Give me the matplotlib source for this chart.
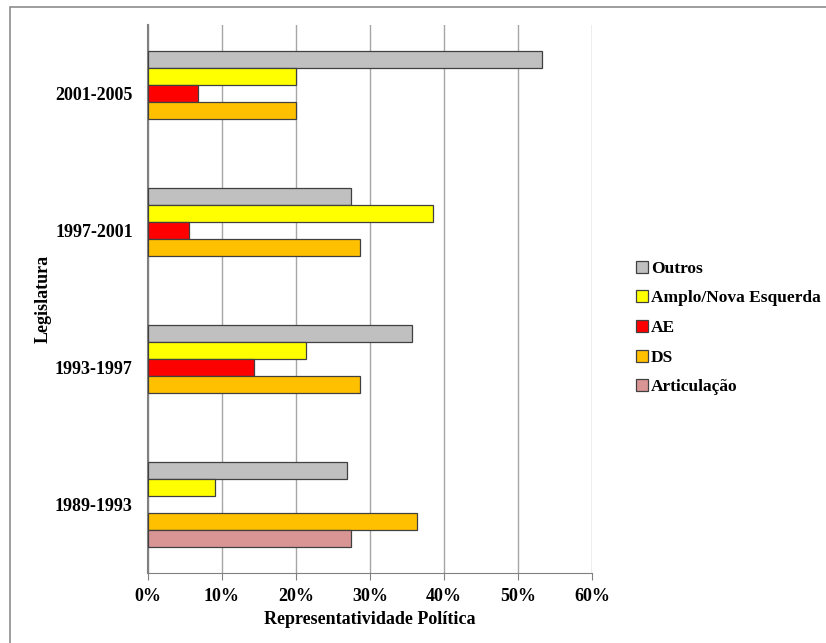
import matplotlib
matplotlib.use("Agg")
import matplotlib.pyplot as plt
import numpy as np
from matplotlib.patches import Rectangle
from matplotlib.ticker import PercentFormatter

legislaturas = ["1989-1993", "1993-1997", "1997-2001", "2001-2005"]
series_names = ["Outros", "Amplo/Nova Esquerda", "AE", "DS", "Articulação"]
outros = [26.9, 35.7, 27.5, 53.3]
amplo = [9.0, 21.4, 38.5, 20.0]
ae = [0.0, 14.3, 5.5, 6.7]
ds = [36.4, 28.6, 28.6, 20.0]
articulacao = [27.5, 0.0, 0.0, 0.0]
colors = ["#C0C0C0", "#FFFF00", "#FF0000", "#FFC000", "#D99594"]

plt.rcParams['font.family'] = ['Liberation Serif', 'DejaVu Serif']
plt.rcParams['font.weight'] = 'bold'

fig = plt.figure(figsize=(8.26, 6.43), dpi=100)
ax = fig.add_axes([148/826, 70/643, 444/826, 548/643])

values = [outros, amplo, ae, ds, articulacao]
y = np.arange(len(legislaturas))
h = 0.124
for i, (name, vals, c) in enumerate(zip(series_names, values, colors)):
    offset = (2 - i) * h
    vals = np.asarray(vals, dtype=float)
    mask = vals > 0
    ax.barh(y[mask] + offset, vals[mask], height=h, color=c, edgecolor="#404040",
            linewidth=0.9, label=name, zorder=3)

ax.set_xlim(0, 60)
ax.set_ylim(-0.5, 3.5)
ax.set_xticks(np.arange(0, 61, 10))
ax.xaxis.set_major_formatter(PercentFormatter(decimals=0))
ax.set_yticks(y)
ax.set_yticklabels(legislaturas)
ax.tick_params(axis='y', length=0, pad=11, labelsize=13)
ax.tick_params(axis='x', length=5, color="#808080", labelsize=13, pad=6)
ax.grid(axis='x', color="#A6A6A6", linewidth=1.0, zorder=0)
for s in ["top", "right"]:
    ax.spines[s].set_visible(False)
ax.spines["left"].set_color("#808080")
ax.spines["left"].set_linewidth(1.5)
ax.spines["bottom"].set_color("#808080")
ax.set_xlabel("Representatividade Política", fontsize=13, fontweight='bold', labelpad=4)
ax.set_ylabel("Legislatura", fontsize=13, fontweight='bold', labelpad=2)

handles, labels = ax.get_legend_handles_labels()
leg = fig.legend(handles, labels, loc='center left', bbox_to_anchor=(636/826, 1 - 328/643),
                 frameon=False, fontsize=12.5, handlelength=0.7, handleheight=0.7,
                 handletextpad=0.15, labelspacing=0.78, borderaxespad=0, borderpad=0)

fig.patches.append(Rectangle((10/826, -0.05), 1.2, (643-7)/643 + 0.05, transform=fig.transFigure,
                             fill=False, edgecolor="#8C8C8C", linewidth=1.2, zorder=0))

fig.savefig("out.png", dpi=100)
